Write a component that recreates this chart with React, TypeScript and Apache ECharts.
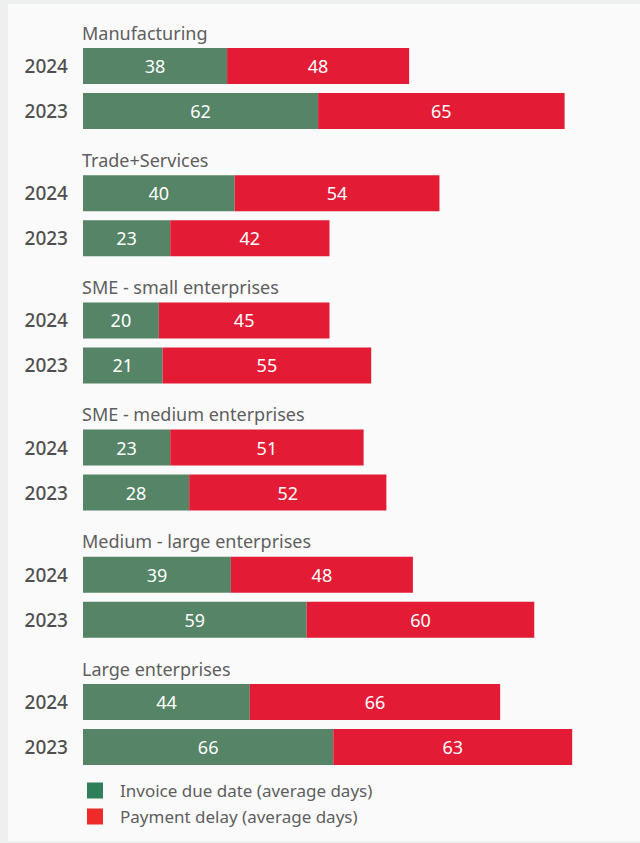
import React, { useEffect, useRef } from "react";
import * as echarts from "echarts";

const categories = [
  "Manufacturing",
  "Trade+Services",
  "SME - small enterprises",
  "SME - medium enterprises",
  "Medium - large enterprises",
  "Large enterprises",
];
const years = ["2024", "2023"];
const invoice2024 = [38, 40, 20, 23, 39, 44];
const invoice2023 = [62, 23, 21, 28, 59, 66];
const delay2024 = [48, 54, 45, 51, 48, 66];
const delay2023 = [65, 42, 55, 52, 60, 63];
const seriesNames = ["Invoice due date (average days)", "Payment delay (average days)"];

const FONT = "'Noto Sans', sans-serif";

export default function App() {
  const ref = useRef<HTMLDivElement>(null);
  useEffect(() => {
    if (!ref.current) return;
    const chart = echarts.init(ref.current, null, { renderer: "svg" });
    const step = 127.2;
    const grids: any[] = [];
    const xAxes: any[] = [];
    const yAxes: any[] = [];
    const series: any[] = [];
    const titles: any[] = [];
    categories.forEach((cat, i) => {
      const top = 43.5 + i * step;
      grids.push({ left: 83, top, width: 530.9, height: 90 });
      xAxes.push({
        gridIndex: i,
        type: "value",
        min: 0,
        max: 140,
        show: false,
      });
      yAxes.push({
        gridIndex: i,
        type: "category",
        inverse: true,
        data: years,
        axisLine: { show: false },
        axisTick: { show: false },
        axisLabel: {
          margin: 15,
          fontSize: 19,
          fontWeight: 500,
          color: "#4f4f4f",
          fontFamily: FONT,
        },
      });
      titles.push({
        text: cat,
        left: 82,
        top: top - 20,
        textStyle: { fontSize: 18, fontWeight: "normal", color: "#5e5e5e", fontFamily: FONT },
        padding: 0,
      });
      const label = {
        show: true,
        position: "inside",
        color: "#ffffff",
        fontSize: 18,
        fontFamily: FONT,
      };
      series.push({
        name: seriesNames[0],
        type: "bar",
        xAxisIndex: i,
        yAxisIndex: i,
        stack: "s" + i,
        barWidth: 36,
        data: [invoice2024[i], invoice2023[i]],
        itemStyle: { color: "#558466" },
        label,
      });
      series.push({
        name: seriesNames[1],
        type: "bar",
        xAxisIndex: i,
        yAxisIndex: i,
        stack: "s" + i,
        barWidth: 36,
        data: [delay2024[i], delay2023[i]],
        itemStyle: { color: "#e31b35" },
        label,
      });
    });
    chart.setOption({
      animation: false,
      backgroundColor: "#eef0ef",
      textStyle: { fontFamily: FONT },
      graphic: [
        {
          type: "rect",
          z: -10,
          silent: true,
          shape: { x: 8, y: 4, width: 632, height: 837 },
          style: { fill: "#fafafa" },
        },
      ],
      title: titles,
      grid: grids,
      xAxis: xAxes,
      yAxis: yAxes,
      legend: {
        orient: "vertical",
        left: 82,
        top: 777,
        itemWidth: 16,
        itemHeight: 16,
        itemGap: 9,
        icon: "rect",
        selectedMode: false,
        textStyle: {
          fontSize: 17,
          color: "#5e5e5e",
          fontFamily: FONT,
          padding: [0, 0, 0, 12],
        },
        data: [
          { name: seriesNames[0], itemStyle: { color: "#2f7f5a" } },
          { name: seriesNames[1], itemStyle: { color: "#ee2a2a" } },
        ],
      },
      series,
    });
    return () => chart.dispose();
  }, []);
  return (
    <div
      ref={ref}
      style={{ position: "absolute", left: 0, top: 0, width: 640, height: 843 }}
    />
  );
}
